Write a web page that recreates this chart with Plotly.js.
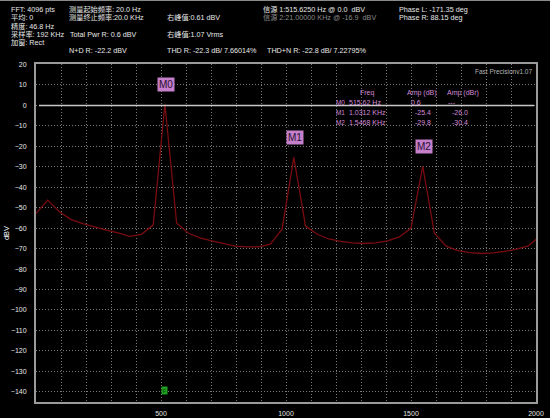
<!DOCTYPE html>
<html><head><meta charset="utf-8">
<script src="https://cdn.plot.ly/plotly-3.0.1.min.js"></script>
<style>html,body{margin:0;padding:0;background:#000;}#chart{width:550px;height:418px;}</style>
</head><body><div id="chart"></div>
<script>
// ---- data ----
const freqHz = [0, 46.875, 93.75, 140.625, 187.5, 234.375, 281.25, 328.125, 375, 421.875,
  468.75, 515.625, 562.5, 609.375, 656.25, 703.125, 750, 796.875, 843.75, 890.625,
  937.5, 984.375, 1031.25, 1078.125, 1125, 1171.875, 1218.75, 1265.625, 1312.5, 1359.375,
  1406.25, 1453.125, 1500, 1546.875, 1593.75, 1640.625, 1687.5, 1734.375, 1781.25, 1828.125,
  1875, 1921.875, 1968.75, 2015.625];
const ampDbv = [-52.8, -46.3, -52.0, -55.8, -57.8, -59.5, -61.0, -62.3, -64.0, -63.0,
  -58.5, 0.6, -57.5, -62.5, -64.8, -66.2, -67.5, -68.8, -69.2, -69.1,
  -67.8, -60.5, -25.4, -59.0, -63.0, -65.3, -66.5, -67.2, -67.5, -67.2,
  -66.2, -64.3, -60.0, -29.8, -62.5, -68.8, -71.0, -72.0, -72.4, -72.1,
  -71.4, -70.3, -68.7, -63.9];
const markerNames = ['M0', 'M1', 'M2'];
const markerFreqHz = [515.625, 1031.25, 1546.875];
const markerAmpDb = [0.6, -25.4, -29.8];
const markerFreqText = ['515.62 Hz', '1.0312 KHz', '1.5468 KHz'];
const markerAmpText = ['0.6', '-25.4', '-29.8'];
const markerDbrText = ['---', '-26.0', '-30.4'];
const tableHeaders = ['Freq', 'Amp (dB)', 'Amp (dBr)'];
const xTickVals = [500, 1000, 1500, 2000];
const yTickVals = [-140, -130, -120, -110, -100, -90, -80, -70, -60, -50, -40, -30, -20, -10, 0, 10, 20];
const refLevelDb = 0;
const genFreqHz = 515.625;
const genMarkerDb = -140;
const headerTexts = [
  'FFT: 4096 pts', '平均: 0', '精度: 46.8 Hz', '采样率: 192 KHz', '加窗: Rect',
  '测量起始频率: 20.0 Hz', '测量终止频率:20.0 KHz', 'Total Pwr R: 0.6 dBV', 'N+D R: -22.2 dBV',
  '右峰值:0.61 dBV', '右峰值:1.07 Vrms', 'THD R: -22.3 dB/ 7.66014%',
  '信源 1:515.6250 Hz @ 0.0  dBV', '信源 2:21.00000 KHz @ -16.9  dBV', 'THD+N R: -22.8 dB/ 7.22795%',
  'Phase L: -171.35 deg', 'Phase R: 88.15 deg'
];
const versionText = 'Fast Precisionv1.07';

// ---- layout helpers (pixel -> paper) ----
const L = 36, R = 14, T = 64, B = 16, W = 550, H = 418;
const PW = W - L - R, PH = H - T - B;
const px = x => (x - L) / PW;
const py = y => (H - B - y) / PH;
const FONT = 'Liberation Sans, Arial, Noto Sans CJK SC, sans-serif';

const headerPos = [
  [10, 9.5], [10, 17.5], [10, 26], [10, 34], [10, 42.5],
  [68, 9.5], [68, 17.5], [69, 34], [68, 50],
  [166, 17.5], [166, 34], [166, 50],
  [262, 9.5], [262, 17.5], [266, 50],
  [398, 9.5], [398, 17.5]
];
const annotations = [];
headerTexts.forEach((t, i) => {
  annotations.push({
    xref: 'paper', yref: 'paper', x: px(headerPos[i][0]), y: py(headerPos[i][1]),
    xanchor: 'left', yanchor: 'middle', showarrow: false, text: t, borderpad: 0,
    font: {family: FONT, size: 7.2, color: i === 13 ? '#8a8a8a' : '#e8e8e8'}
  });
});
annotations.push({
  xref: 'paper', yref: 'paper', x: px(533), y: py(71.5), xanchor: 'right', yanchor: 'middle',
  showarrow: false, text: versionText, borderpad: 0, font: {family: FONT, size: 6.5, color: '#b4b4b4'}
});
// marker table
const tblColor = '#d48ad8';
const hdrX = [367, 421.5, 463];
tableHeaders.forEach((t, i) => annotations.push({
  xref: 'paper', yref: 'paper', x: px(hdrX[i]), y: py(92.7), xanchor: 'center', yanchor: 'middle',
  showarrow: false, text: t, borderpad: 0, font: {family: FONT, size: 7, color: tblColor}
}));
const rowY = [102.7, 113, 122.5];
markerNames.forEach((m, i) => {
  const cols = [[335, m, 6.4], [347.5, markerFreqText[i], 7], [i === 0 ? 410 : 414, markerAmpText[i], 7], [i === 0 ? 447 : 451, markerDbrText[i], 7]];
  cols.forEach(c => annotations.push({
    xref: 'paper', yref: 'paper', x: px(c[0]), y: py(rowY[i]), xanchor: 'left', yanchor: 'middle',
    showarrow: false, text: c[1], borderpad: 0, font: {family: FONT, size: c[2], color: tblColor}
  }));
  // peak label boxes
  annotations.push({
    xref: 'x', yref: 'y', x: markerFreqHz[i], y: markerAmpDb[i], yshift: 20, xshift: 1,
    xanchor: 'center', yanchor: 'middle', showarrow: false, text: m,
    bgcolor: '#c57fcb', borderpad: 1, font: {family: FONT, size: 10, color: '#2a1030'}
  });
});
// generator marker
annotations.push({
  xref: 'x', yref: 'y', x: genFreqHz, y: genMarkerDb, xshift: 0, yshift: 1,
  xanchor: 'center', yanchor: 'middle', showarrow: false, text: 'F',
  bgcolor: '#1f9e1f', borderpad: 0.5, font: {family: FONT, size: 6, color: '#0c4a0c'}
});

const data = [{
  type: 'scatter', mode: 'lines', x: freqHz, y: ampDbv,
  line: {color: '#7a0c10', width: 1.3}, hoverinfo: 'skip'
}];

const gridCol = '#7a7a7a';
const layout = {
  width: W, height: H,
  margin: {l: L, r: R, t: T, b: B, pad: 0},
  paper_bgcolor: '#000', plot_bgcolor: '#000',
  showlegend: false,
  font: {family: FONT, size: 7, color: '#e8e8e8'},
  xaxis: {
    range: [0, 2000], tickvals: xTickVals, ticks: '', ticklabelstandoff: 4,
    showgrid: true, gridcolor: gridCol, griddash: '1px,2px', gridwidth: 1,
    minor: {dtick: 100, tick0: 0, showgrid: true, gridcolor: gridCol, griddash: '1px,2px', gridwidth: 1},
    showline: true, mirror: true, linecolor: '#9a9a9a', linewidth: 2,
    zeroline: false, tickfont: {family: FONT, size: 7, color: '#e0e0e0'}, fixedrange: true
  },
  yaxis: {
    range: [-145, 20.25], tickvals: yTickVals, ticks: '', ticklabelstandoff: 6,
    showgrid: true, gridcolor: gridCol, griddash: '1px,2px', gridwidth: 1,
    showline: true, mirror: true, linecolor: '#9a9a9a', linewidth: 2,
    zeroline: false, tickfont: {family: FONT, size: 7, color: '#e8e8e8'},
    title: {text: 'dBV', standoff: 0, font: {family: FONT, size: 7.5, color: '#ffffff'}},
    fixedrange: true
  },
  shapes: [
    {type: 'line', xref: 'paper', yref: 'y', x0: px(39), x1: px(534), y0: refLevelDb, y1: refLevelDb,
     line: {color: '#c8c8c8', width: 1.5}},
    {type: 'line', xref: 'paper', yref: 'paper', x0: px(0), x1: px(550), y0: py(0.5), y1: py(0.5),
     line: {color: '#8a8a8a', width: 1}}
  ],
  annotations: annotations
};
Plotly.newPlot('chart', data, layout, {staticPlot: true, displayModeBar: false});
</script>
</body></html>
